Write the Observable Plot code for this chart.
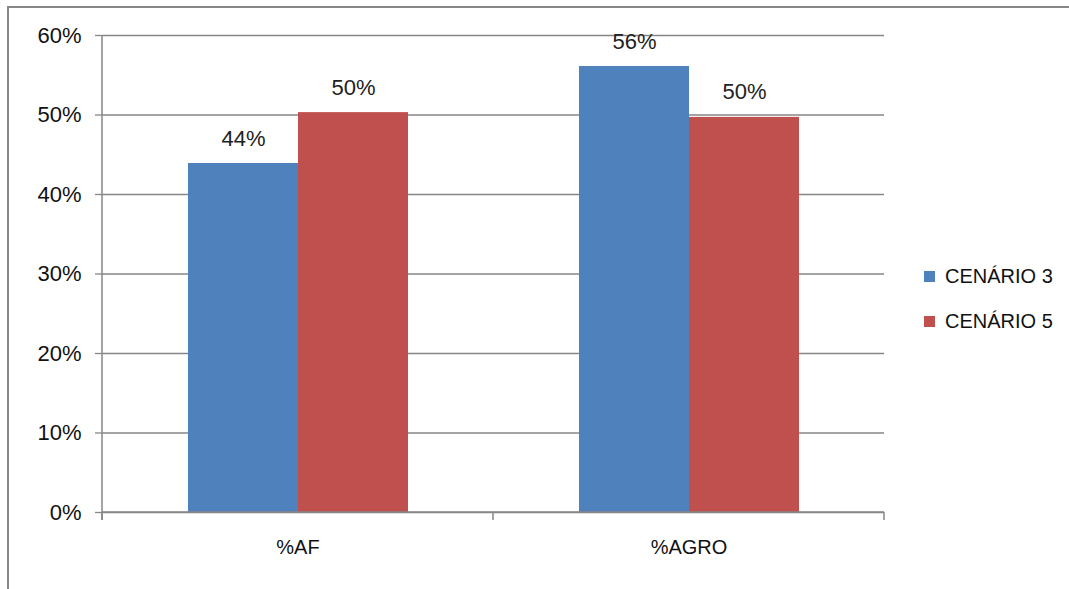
<!DOCTYPE html>
<html>
<head>
<meta charset="utf-8">
<script src="https://cdn.jsdelivr.net/npm/d3@7"></script>
<script src="https://cdn.jsdelivr.net/npm/@observablehq/plot@0.6"></script>
<style>
  html, body { margin: 0; padding: 0; background: #fff; }
  #wrap { position: relative; width: 1069px; height: 589px; overflow: hidden; font-family: "Liberation Sans", Arial, sans-serif; }
  #border { position: absolute; left: 7px; top: 6px; right: -4px; bottom: -4px; border-top: 2px solid #878787; border-left: 2px solid #878787; pointer-events: none; }
  #chart { position: absolute; left: 0; top: 0; }
  #legend { position: absolute; left: 924px; top: 262px; font-size: 20px; color: #111; }
  .item { display: flex; align-items: center; height: 28px; margin-bottom: 17px; }
  .sw { width: 11px; height: 11px; margin-right: 10px; }
</style>
</head>
<body>
<div id="wrap">
  <div id="chart"></div>
  <div id="border"></div>
  <div id="legend"></div>
</div>
<script>
const categories = ["%AF", "%AGRO"];
const series = ["CENÁRIO 3", "CENÁRIO 5"];
const cenario3 = [0.439, 0.561];
const cenario5 = [0.503, 0.497];
const yTicks = [0, 0.1, 0.2, 0.3, 0.4, 0.5, 0.6];
const colors = ["#4F81BD", "#C0504D"];

const data = [];
categories.forEach((c, i) => {
  data.push({cat: c, series: series[0], value: cenario3[i]});
  data.push({cat: c, series: series[1], value: cenario5[i]});
});

const pct = d => Math.round(d * 100) + "%";
const grey = "#868686";

const chart = Plot.plot({
  width: 1069,
  height: 589,
  marginLeft: 101,
  marginRight: 185,
  marginTop: 35,
  marginBottom: 77,
  style: {fontFamily: "Liberation Sans, Arial, sans-serif", fontSize: "21px", background: "transparent", color: "#111"},
  fx: {domain: categories, paddingInner: 0, paddingOuter: 0, label: null},
  x: {domain: series, paddingInner: 0, paddingOuter: 0.763, axis: null},
  y: {domain: [0, 0.6], axis: null},
  color: {domain: series, range: colors},
  marks: [
    Plot.gridY(yTicks, {stroke: grey, strokeOpacity: 1, strokeWidth: 1.3}),
    Plot.barY(data, {fx: "cat", x: "series", y: "value", fill: "series", inset: 0}),
    Plot.text(data, {fx: "cat", x: "series", y: "value", text: d => pct(d.value), dy: -25, fontSize: 22, fill: "#222"}),
    Plot.axisY(yTicks, {tickSize: 7, tickPadding: 14, tickFormat: pct, stroke: grey, strokeWidth: 1.3, fill: "#111", label: null, fontSize: 22}),
    Plot.axisFx({anchor: "bottom", tickSize: 0, tickPadding: 27, label: null, fill: "#111", fontSize: 20})
  ]
});

document.getElementById("chart").appendChild(chart);

// axis line and category separators from the plot's scales
const fxs = chart.scale("fx");
const ys = chart.scale("y");
const svg = d3.select(chart);
const bw = fxs.bandwidth;
const bounds = categories.map(c => fxs.apply(c));
bounds.push(fxs.apply(categories[categories.length - 1]) + bw);
const y0 = ys.apply(0), yTop = ys.apply(0.6);
const g = svg.append("g").attr("stroke", grey).attr("stroke-width", 1.5);
g.append("line").attr("x1", bounds[0]).attr("x2", bounds[0]).attr("y1", yTop).attr("y2", y0 + 8);
bounds.forEach(b => g.append("line").attr("x1", b).attr("x2", b).attr("y1", y0).attr("y2", y0 + 8));
g.append("line").attr("x1", bounds[0]).attr("x2", bounds[bounds.length - 1]).attr("y1", y0).attr("y2", y0);

// legend
const legend = d3.select("#legend");
series.forEach((s, i) => {
  const it = legend.append("div").attr("class", "item");
  it.append("div").attr("class", "sw").style("background", colors[i]);
  it.append("span").text(s);
});
</script>
</body>
</html>
